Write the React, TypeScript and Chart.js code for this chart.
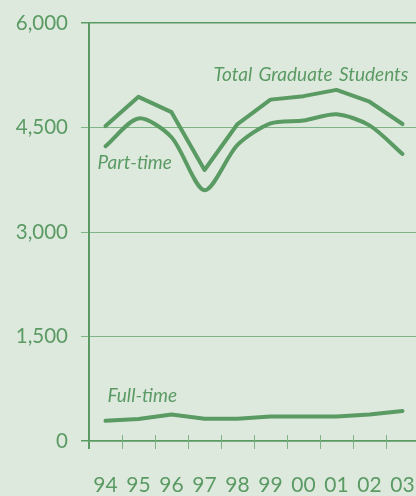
import React, { useEffect, useRef } from "react";
import { Chart, registerables } from "chart.js";

Chart.register(...registerables);

const years = ["94", "95", "96", "97", "98", "99", "00", "01", "02", "03"];
const totalStudents = [4520, 4940, 4720, 3890, 4550, 4900, 4950, 5040, 4870, 4550];
const partTime = [4230, 4630, 4360, 3600, 4250, 4560, 4600, 4690, 4530, 4120];
const fullTime = [290, 315, 380, 320, 320, 350, 350, 350, 380, 430];
const yTickValues = [0, 1500, 3000, 4500, 6000];

const seriesLabels = ["Total Graduate Students", "Part-time", "Full-time"];
// anchor positions in data units (category index, value)
const labelAnchorX = [9.18, -0.24, 0.06];
const labelAnchorY = [5254, 3990, 646];
const labelAlign: CanvasTextAlign[] = ["right", "left", "left"];

const BG = "#dee9de";
const DARK = "#5a9a63";
const LIGHT = "#7fb486";
const FONT = "Lato, 'Open Sans', sans-serif";

const annotationPlugin = {
  id: "annotations",
  afterDraw(chart: any) {
    const ctx = chart.ctx;
    const x = chart.scales.x;
    const y = chart.scales.y;
    ctx.save();
    // upper half of x tick marks
    ctx.strokeStyle = LIGHT;
    ctx.lineWidth = 1;
    const bottom = y.getPixelForValue(0);
    for (let i = 1; i < years.length; i++) {
      const px = Math.round((x.getPixelForValue(i - 1) + x.getPixelForValue(i)) / 2) + 0.5;
      ctx.beginPath();
      ctx.moveTo(px, bottom - 6);
      ctx.lineTo(px, bottom);
      ctx.stroke();
    }
    ctx.fillStyle = DARK;
    ctx.font = `italic 19px ${FONT}`;
    ctx.textBaseline = "middle";
    seriesLabels.forEach((t, i) => {
      ctx.textAlign = labelAlign[i];
      (ctx as any).wordSpacing = i === 0 ? "2px" : "0px";
      ctx.fillText(t, x.getPixelForValue(labelAnchorX[i]), y.getPixelForValue(labelAnchorY[i]));
    });
    ctx.restore();
  },
};

export default function App() {
  const ref = useRef<HTMLCanvasElement | null>(null);
  useEffect(() => {
    if (!ref.current) return;
    const lineStyle = {
      borderColor: DARK,
      borderWidth: 4,
      pointRadius: 0,
      fill: false,
      borderCapStyle: "round" as const,
      borderJoinStyle: "round" as const,
    };
    const chart = new Chart(ref.current, {
      type: "line",
      data: {
        labels: years,
        datasets: [
          { label: seriesLabels[0], data: totalStudents, tension: 0, ...lineStyle },
          { label: seriesLabels[1], data: partTime, tension: 0.28, ...lineStyle },
          { label: seriesLabels[2], data: fullTime, tension: 0, ...lineStyle },
        ],
      },
      options: {
        responsive: false,
        animation: false,
        layout: { padding: { top: 23, right: 1, left: 0, bottom: 0 } },
        plugins: { legend: { display: false }, tooltip: { enabled: false } },
        scales: {
          x: {
            type: "category",
            offset: true,
            grid: {
              offset: true,
              drawOnChartArea: false,
              drawTicks: true,
              tickLength: 8,
              color: (c: any) => (c.index === 0 ? DARK : LIGHT),
              lineWidth: (c: any) => (c.index === 0 ? 2 : 1),
            },
            border: { display: true, color: DARK, width: 1.5 },
            ticks: {
              color: DARK,
              font: { family: FONT, size: 21, lineHeight: 3.15 },
              padding: 3,
              maxRotation: 0,
              autoSkip: false,
            },
            afterFit: (s: any) => {
              s.height = 55;
            },
          },
          y: {
            min: 0,
            max: 6000,
            afterBuildTicks: (s: any) => {
              s.ticks = yTickValues.map((v) => ({ value: v }));
            },
            grid: {
              drawOnChartArea: true,
              drawTicks: true,
              tickLength: 8,
              color: (c: any) => (c.tick && (c.tick.value === 6000 || c.tick.value === 0) ? DARK : LIGHT),
              lineWidth: (c: any) => (c.tick && (c.tick.value === 6000 || c.tick.value === 0) ? 1.5 : 1),
            },
            border: { display: true, color: DARK, width: 2 },
            ticks: {
              color: DARK,
              font: { family: FONT, size: 20.5, lineHeight: 0.9 },
              padding: 13,
              callback: (v: any) => Number(v).toLocaleString("en-US"),
            },
            afterFit: (s: any) => {
              s.width = 89;
            },
          },
        },
      },
      plugins: [annotationPlugin],
    });
    return () => chart.destroy();
  }, []);

  return (
    <div
      style={{
        position: "fixed",
        left: 0,
        top: 0,
        width: 416,
        height: 496,
        overflow: "hidden",
        background: BG,
      }}
    >
      <canvas ref={ref} width={420} height={496} style={{ display: "block" }} />
    </div>
  );
}
